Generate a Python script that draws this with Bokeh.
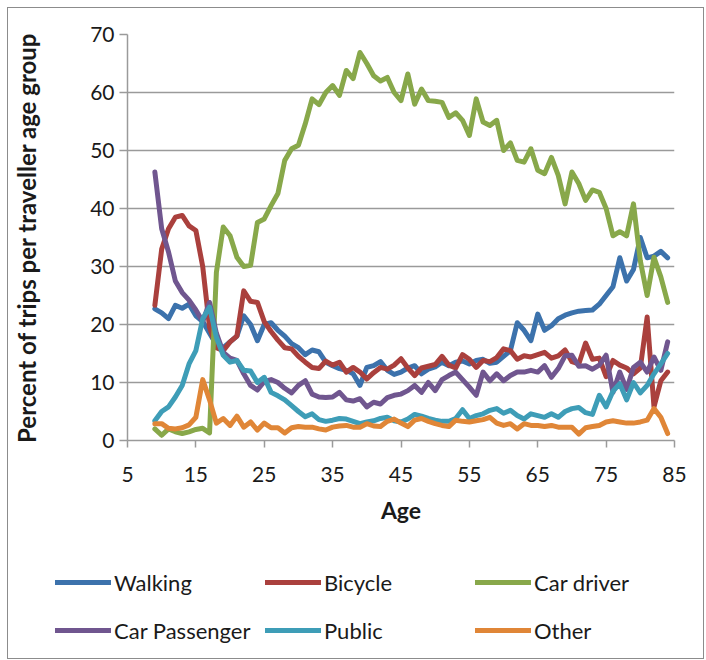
from bokeh.plotting import figure
from bokeh.models import Legend, LegendItem, FixedTicker, Range1d
from bokeh.layouts import column
from bokeh.embed import file_html
from bokeh.resources import INLINE

ages = [9, 10, 11, 12, 13, 14, 15, 16, 17, 18, 19, 20, 21, 22, 23, 24, 25, 26, 27, 28,
        29, 30, 31, 32, 33, 34, 35, 36, 37, 38, 39, 40, 41, 42, 43, 44, 45, 46, 47, 48,
        49, 50, 51, 52, 53, 54, 55, 56, 57, 58, 59, 60, 61, 62, 63, 64, 65, 66, 67, 68,
        69, 70, 71, 72, 73, 74, 75, 76, 77, 78, 79, 80, 81, 82, 83, 84]

walking = [22.7, 22.0, 21.0, 23.3, 22.8, 23.5, 21.5, 20.5, 18.5, 16.5, 16.0, 17.0, 18.0, 21.5, 20.0, 17.2, 20.0, 20.3, 19.0, 18.0,
           16.7, 16.0, 14.8, 15.6, 15.3, 13.5, 12.9, 12.4, 12.1, 11.5, 9.5, 12.6, 12.9, 13.6, 12.1, 11.4, 11.8, 12.5, 12.9, 11.5,
           12.3, 12.7, 13.5, 12.9, 13.5, 13.7, 13.2, 13.8, 14.0, 13.3, 13.5, 14.5, 15.5, 20.3, 19.0, 17.2, 21.8, 19.0, 19.8, 21.0,
           21.6, 22.0, 22.3, 22.4, 22.5, 23.5, 25.0, 26.5, 31.5, 27.5, 29.5, 35.0, 31.5, 31.8, 32.6, 31.5]

bicycle = [23.3, 33.0, 36.5, 38.5, 38.8, 37.0, 36.2, 30.0, 19.5, 16.0, 15.5, 17.0, 18.0, 25.8, 24.0, 23.8, 20.5, 18.8, 17.3, 16.0,
           15.8, 14.5, 13.5, 12.6, 12.4, 13.7, 13.0, 13.5, 11.8, 12.6, 11.8, 10.6, 11.7, 12.6, 12.3, 13.0, 14.1, 12.5, 11.2, 12.5,
           12.8, 13.1, 14.5, 13.0, 12.5, 14.8, 14.0, 12.6, 13.8, 13.6, 14.3, 15.8, 15.5, 14.0, 14.6, 14.4, 14.8, 15.2, 14.2, 14.6,
           15.6, 13.6, 13.2, 16.8, 14.0, 14.2, 11.0, 13.8, 13.0, 12.5, 11.5, 12.5, 21.3, 5.8, 10.3, 11.8]

car_driver = [2.0, 0.9, 2.0, 1.5, 1.2, 1.5, 1.9, 2.1, 1.3, 29.0, 36.8, 35.3, 31.6, 30.0, 30.2, 37.6, 38.2, 40.5, 42.6, 48.3,
              50.3, 50.9, 54.6, 58.9, 57.9, 60.0, 61.2, 59.5, 63.8, 62.4, 66.9, 65.0, 62.9, 62.0, 62.6, 60.0, 58.6, 63.2, 58.0, 60.6,
              58.6, 58.5, 58.3, 55.7, 56.5, 55.2, 52.6, 58.9, 54.9, 54.3, 55.2, 50.0, 51.3, 48.3, 48.0, 50.3, 46.6, 46.0, 48.8, 45.7,
              40.8, 46.3, 44.3, 41.4, 43.2, 42.8, 40.0, 35.3, 36.0, 35.3, 40.8, 31.0, 25.0, 31.6, 28.2, 23.8]

car_passenger = [46.3, 36.5, 32.5, 27.5, 25.5, 24.2, 22.5, 20.5, 23.8, 18.5, 15.2, 14.2, 13.8, 11.5, 9.5, 8.7, 10.2, 10.5, 10.0, 9.0,
                 8.2, 9.5, 10.3, 8.0, 7.5, 7.4, 7.5, 8.3, 7.0, 6.8, 7.2, 5.8, 6.6, 6.3, 7.4, 7.8, 8.0, 8.6, 9.5, 8.3,
                 10.0, 8.6, 10.5, 11.2, 11.8, 10.5, 9.2, 7.8, 11.8, 10.3, 11.5, 10.3, 11.2, 11.8, 11.8, 12.1, 11.8, 12.9, 10.9, 12.4,
                 14.6, 14.7, 12.8, 12.9, 12.3, 13.0, 14.7, 8.3, 11.8, 8.8, 12.6, 13.5, 11.8, 14.4, 12.1, 17.0]

public = [3.4, 5.0, 5.8, 7.5, 9.5, 13.2, 15.5, 21.0, 23.0, 17.8, 14.7, 13.5, 13.8, 12.1, 12.0, 10.0, 10.9, 8.3, 7.7, 7.0,
          6.0, 5.0, 4.1, 4.6, 3.6, 3.3, 3.5, 3.8, 3.7, 3.3, 2.9, 3.2, 3.4, 3.8, 4.0, 3.4, 3.2, 3.7, 4.5, 4.2,
          3.8, 3.5, 3.3, 3.3, 3.8, 5.3, 3.8, 4.3, 4.6, 5.2, 5.5, 4.7, 5.2, 4.3, 3.7, 4.6, 4.3, 4.0, 4.6, 4.0,
          5.0, 5.5, 5.7, 4.8, 4.5, 7.8, 5.8, 8.5, 9.8, 7.0, 10.0, 8.2, 9.5, 11.5, 13.2, 15.0]

other = [2.9, 2.9, 2.1, 2.0, 2.2, 2.7, 4.0, 10.5, 7.0, 3.0, 3.8, 2.6, 4.2, 2.3, 3.2, 1.8, 3.0, 2.2, 2.2, 1.3,
         2.2, 2.4, 2.3, 2.3, 2.0, 1.8, 2.3, 2.5, 2.6, 2.3, 2.3, 2.9, 2.5, 2.4, 3.3, 3.7, 3.0, 2.4, 3.5, 3.8,
         3.3, 2.9, 2.6, 2.4, 3.5, 3.3, 3.2, 3.4, 3.6, 4.0, 3.0, 2.6, 2.9, 2.0, 2.9, 2.6, 2.6, 2.4, 2.6, 2.3,
         2.3, 2.3, 1.1, 2.2, 2.4, 2.6, 3.2, 3.4, 3.2, 3.0, 3.0, 3.2, 3.5, 5.5, 4.0, 1.2]

series_names = ["Walking", "Bicycle", "Car driver", "Car Passenger", "Public", "Other"]
series_values = [walking, bicycle, car_driver, car_passenger, public, other]
series_colors = ["#3C72AC", "#AA403D", "#88A84A", "#70568F", "#3E9DB7", "#E08637"]

x_ticks = [5, 15, 25, 35, 45, 55, 65, 75, 85]
y_ticks = [0, 10, 20, 30, 40, 50, 60, 70]

FONT = "Lato"
TXT = "#1a1a1a"
GRID = "#9a9a9a"
W = 695

p = figure(width=W, height=535, x_range=Range1d(5, 85), y_range=Range1d(0, 70),
           output_backend="svg", toolbar_location=None,
           min_border_left=119, min_border_right=29, min_border_top=26, min_border_bottom=103)
p.frame_align = False
p.outline_line_color = None
p.background_fill_color = "white"
p.border_fill_color = "white"

p.xgrid.visible = False
p.ygrid.grid_line_color = GRID
p.ygrid.grid_line_width = 1.5
p.ygrid.ticker = FixedTicker(ticks=y_ticks)

for ax in (p.xaxis[0], p.yaxis[0]):
    ax.axis_line_color = GRID
    ax.axis_line_width = 1.5
    ax.major_tick_line_color = GRID
    ax.major_tick_line_width = 1.5
    ax.major_tick_in = 0
    ax.minor_tick_line_color = None
    ax.major_label_text_font = FONT
    ax.major_label_text_font_size = "21px"
    ax.major_label_text_color = TXT
    ax.axis_label_text_font = FONT
    ax.axis_label_text_font_style = "bold"
    ax.axis_label_text_color = TXT

p.xaxis.ticker = FixedTicker(ticks=x_ticks)
p.yaxis.ticker = FixedTicker(ticks=y_ticks)
p.xaxis.major_tick_out = 7
p.yaxis.major_tick_out = 8
p.xaxis.major_label_standoff = 19
p.yaxis.major_label_standoff = 5
p.xaxis.axis_label = "Age"
p.yaxis.axis_label = "Percent of trips per traveller age group"
p.xaxis.axis_label_text_font_size = "23px"
p.yaxis.axis_label_text_font_size = "24px"
p.xaxis.axis_label_standoff = 11
p.yaxis.axis_label_standoff = 46

for name, vals, col in zip(series_names, series_values, series_colors):
    p.line(ages, vals, line_color=col, line_width=5, line_join="round", line_cap="round")

# legend panel: a frame-only figure whose view lies outside the data, holding the legend
lg_fig = figure(width=W, height=115, x_range=Range1d(1000, 1001), y_range=Range1d(1000, 1001),
                output_backend="svg", toolbar_location=None,
                x_axis_location=None, y_axis_location=None, min_border=0)
lg_fig.frame_align = False
lg_fig.outline_line_color = None
lg_fig.xgrid.visible = False
lg_fig.ygrid.visible = False
lg_fig.background_fill_color = "white"
lg_fig.border_fill_color = "white"

items = []
for name, vals, col in zip(series_names, series_values, series_colors):
    r = lg_fig.line(ages, vals, line_color=col, line_width=5, line_cap="round")
    items.append(LegendItem(label=name, renderers=[r]))

legend = Legend(items=items, location=(47, 5), orientation="horizontal", ncols=3,
                glyph_width=56, glyph_height=46, label_height=46, label_width=149,
                label_standoff=3, spacing=2, padding=0, margin=0,
                label_text_font=FONT, label_text_font_size="22px", label_text_color=TXT,
                border_line_color=None, background_fill_alpha=0)
lg_fig.add_layout(legend, "center")

layout = column(p, lg_fig, spacing=0)
layout.styles = {"border": "1px solid #8c8c8c", "margin-left": "7px", "margin-top": "7px"}

open("out.html", "w").write(file_html(layout, INLINE))
